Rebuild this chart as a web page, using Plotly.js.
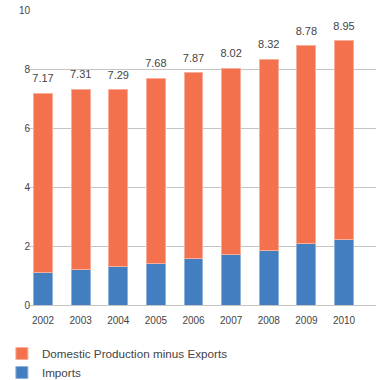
<!DOCTYPE html>
<html><head><meta charset="utf-8">
<script src="https://cdn.plot.ly/plotly-3.0.1.min.js"></script>
<style>html,body{margin:0;padding:0;background:#fff}#c{width:376px;height:380px}</style>
</head><body><div id="c"></div>
<script>
const years = ["2002","2003","2004","2005","2006","2007","2008","2009","2010"];
const imports = [1.09, 1.22, 1.29, 1.41, 1.56, 1.71, 1.86, 2.10, 2.23];
const totals = [7.17, 7.31, 7.29, 7.68, 7.87, 8.02, 8.32, 8.78, 8.95];
const domestic = totals.map((t, i) => +(t - imports[i]).toFixed(2));
const seriesNames = ["Imports", "Domestic Production minus Exports"];

const font = "Liberation Sans, Arial, sans-serif";
const traces = [
  {type: "bar", x: years, y: imports, name: seriesNames[0],
   marker: {color: "#427EC0", line: {color: "#8FB3DC", width: 1}}, width: 0.5, hoverinfo: "skip"},
  {type: "bar", x: years, y: domestic, name: seriesNames[1],
   marker: {color: "#F3714C", line: {color: "#F8AE98", width: 1}}, width: 0.5, hoverinfo: "skip"},
  {type: "scatter", mode: "markers+text", x: years, y: totals, text: totals.map(v => v.toFixed(2)),
   marker: {size: 12, color: "rgba(0,0,0,0)"},
   textposition: "top center", textfont: {family: font, size: 11, color: "#444"},
   showlegend: false, hoverinfo: "skip", cliponaxis: false}
];
const layout = {
  width: 376, height: 380,
  margin: {l: 28, r: 0, t: 10, b: 75, autoexpand: false},
  barmode: "stack",
  paper_bgcolor: "#fff", plot_bgcolor: "#fff",
  font: {family: font, size: 10, color: "#444"},
  xaxis: {type: "category", range: [-0.4, 8.85], showgrid: false, showline: false, zeroline: false,
          ticks: "", ticklen: 0, tickangle: 0, tickfont: {size: 10, color: "#444"}, ticklabelstandoff: 8, automargin: false},
  yaxis: {range: [0, 10], tickvals: [0, 2, 4, 6, 8, 10], showgrid: true, gridcolor: "#c4c4c4", gridwidth: 1,
          zeroline: true, zerolinecolor: "#c4c4c4", zerolinewidth: 1, showline: false, ticks: "", ticklen: 0,
          ticklabelstandoff: -3, tickfont: {size: 10, color: "#444"}, automargin: false},
  showlegend: true,
  legend: {traceorder: "reversed", orientation: "v", xref: "container", yref: "container",
           x: 0.005, y: 1 - 339/380, xanchor: "left", yanchor: "top",
           font: {family: font, size: 11.7, color: "#444"}, tracegroupgap: 0, itemwidth: 30}
};
Plotly.newPlot("c", traces, layout, {staticPlot: true, displayModeBar: false});
</script></body></html>
